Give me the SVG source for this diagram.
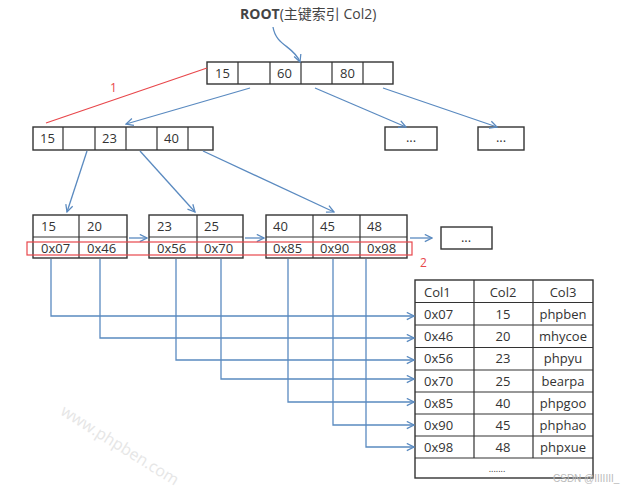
<svg xmlns="http://www.w3.org/2000/svg" width="633" height="492" viewBox="0 0 633 492">
<style>
.box{fill:#fff;stroke:#333;stroke-width:1.4}
.ln{stroke:#333;stroke-width:1.2}
.t{font-family:"Open Sans","Liberation Sans",sans-serif;font-size:13px;fill:#333}
.tc{text-anchor:middle}
.ar{fill:none;stroke:#5a8ac0;stroke-width:1.3}
.red{fill:none;stroke:#e8474b;stroke-width:1.2}
.rt{font-family:"Open Sans","Liberation Sans",sans-serif;font-size:12px;fill:#e8474b}
</style>
<defs>
<marker id="ah" viewBox="0 0 10 10" refX="9" refY="5" markerWidth="9" markerHeight="9" orient="auto" markerUnits="userSpaceOnUse">
<path d="M1,1 L9,5 L1,9" fill="none" stroke="#5a8ac0" stroke-width="1.4"/>
</marker>
</defs>
<rect width="633" height="492" fill="#fff"/>
<text x="117" y="450" transform="rotate(32 117 450)" style="font-family:'Open Sans','Liberation Sans',sans-serif;font-size:16px;fill:#e6e6e6" text-anchor="middle">www.phpben.com</text>

<g id="root-label">
<text x="240" y="19" style="font-family:'Open Sans','Liberation Sans','Noto Sans CJK SC',sans-serif;font-size:14px;fill:#444"><tspan font-weight="bold">ROOT</tspan>(主键索引 Col2)</text>
</g>

<g id="root">
<rect class="box" x="207" y="62" width="186" height="22"/>
<path class="ln" d="M238,62V84M270,62V84M301,62V84M332,62V84M363,62V84"/>
<text class="t" x="215" y="78">15</text>
<text class="t" x="277" y="78">60</text>
<text class="t" x="340" y="78">80</text>
</g>

<g id="level2">
<rect class="box" x="33" y="127" width="180" height="23"/>
<path class="ln" d="M63,127V150M95,127V150M126,127V150M157,127V150M188,127V150"/>
<text class="t" x="40" y="143">15</text>
<text class="t" x="102" y="143">23</text>
<text class="t" x="164" y="143">40</text>
</g>

<g id="dots1">
<rect class="box" x="385" y="127" width="52" height="23"/>
<text class="t tc" x="411" y="142">...</text>
</g>
<g id="dots2">
<rect class="box" x="478" y="127" width="46" height="23"/>
<text class="t tc" x="501" y="142">...</text>
</g>

<g id="leaf1">
<rect class="box" x="33" y="215" width="94" height="43"/>
<path class="ln" d="M79,215V258M33,237H127"/>
<text class="t" x="41" y="231">15</text>
<text class="t" x="87" y="231">20</text>
<text class="t" x="41" y="253">0x07</text>
<text class="t" x="87" y="253">0x46</text>
</g>
<g id="leaf2">
<rect class="box" x="149" y="215" width="94" height="43"/>
<path class="ln" d="M197,215V258M149,237H243"/>
<text class="t" x="157" y="231">23</text>
<text class="t" x="204" y="231">25</text>
<text class="t" x="157" y="253">0x56</text>
<text class="t" x="204" y="253">0x70</text>
</g>
<g id="leaf3">
<rect class="box" x="266" y="215" width="141" height="43"/>
<path class="ln" d="M313,215V258M360,215V258M266,237H407"/>
<text class="t" x="273" y="231">40</text>
<text class="t" x="320" y="231">45</text>
<text class="t" x="367" y="231">48</text>
<text class="t" x="273" y="253">0x85</text>
<text class="t" x="320" y="253">0x90</text>
<text class="t" x="367" y="253">0x98</text>
</g>
<g id="leaf-dots">
<rect class="box" x="441" y="227" width="51" height="22"/>
<text class="t tc" x="466" y="242">...</text>
</g>

<g id="table">
<rect class="box" x="415" y="280" width="178" height="198"/>
<path class="ln" d="M474,280V458M533,280V458M415,302.5H593M415,325H593M415,347.5H593M415,370H593M415,392H593M415,414H593M415,436H593M415,458H593"/>
<text class="t" x="424" y="297">Col1</text>
<text class="t tc" x="503" y="297">Col2</text>
<text class="t tc" x="563" y="297">Col3</text>
<text class="t" x="424" y="319">0x07</text><text class="t tc" x="503" y="319">15</text><text class="t tc" x="563" y="319">phpben</text>
<text class="t" x="424" y="341">0x46</text><text class="t tc" x="503" y="341">20</text><text class="t tc" x="563" y="341">mhycoe</text>
<text class="t" x="424" y="363">0x56</text><text class="t tc" x="503" y="363">23</text><text class="t tc" x="563" y="363">phpyu</text>
<text class="t" x="424" y="386">0x70</text><text class="t tc" x="503" y="386">25</text><text class="t tc" x="563" y="386">bearpa</text>
<text class="t" x="424" y="408">0x85</text><text class="t tc" x="503" y="408">40</text><text class="t tc" x="563" y="408">phpgoo</text>
<text class="t" x="424" y="430">0x90</text><text class="t tc" x="503" y="430">45</text><text class="t tc" x="563" y="430">phphao</text>
<text class="t" x="424" y="452">0x98</text><text class="t tc" x="503" y="452">48</text><text class="t tc" x="563" y="452">phpxue</text>
<text class="t tc" x="497" y="472" style="font-size:9px">.......</text>
</g>

<g id="connectors">
<path class="ar" d="M273,27 C276,46 294,46 300,62" marker-end="url(#ah)"/>
<path class="ar" d="M250,88 L126,124" marker-end="url(#ah)"/>
<path class="ar" d="M315,88 L406,127" marker-end="url(#ah)"/>
<path class="ar" d="M383,88 L497,127" marker-end="url(#ah)"/>
<path class="ar" d="M87,151 L67,212" marker-end="url(#ah)"/>
<path class="ar" d="M140,151 L195,212" marker-end="url(#ah)"/>
<path class="ar" d="M203,151 L334,212" marker-end="url(#ah)"/>
<path class="ar" d="M129,238 H147" marker-end="url(#ah)"/>
<path class="ar" d="M245,238 H264" marker-end="url(#ah)"/>
<path class="ar" d="M410,238 H432" marker-end="url(#ah)"/>
<path class="ar" d="M51,259 V316 H414" marker-end="url(#ah)"/>
<path class="ar" d="M100,259 V338 H414" marker-end="url(#ah)"/>
<path class="ar" d="M176,259 V360 H414" marker-end="url(#ah)"/>
<path class="ar" d="M221,259 V379 H414" marker-end="url(#ah)"/>
<path class="ar" d="M288,259 V402 H414" marker-end="url(#ah)"/>
<path class="ar" d="M333,259 V425 H414" marker-end="url(#ah)"/>
<path class="ar" d="M366,259 V447 H414" marker-end="url(#ah)"/>
</g>

<g id="marks">
<path class="red" d="M207,68 L46,123"/>
<text class="rt" x="110" y="92">1</text>
<rect class="red" x="27" y="242" width="385" height="13"/>
<text class="rt" x="420" y="267">2</text>
</g>
<text x="553" y="482" style="font-family:'Liberation Sans',sans-serif;font-size:10px;fill:#bbb">CSDN @IIIIIII_</text>
</svg>
